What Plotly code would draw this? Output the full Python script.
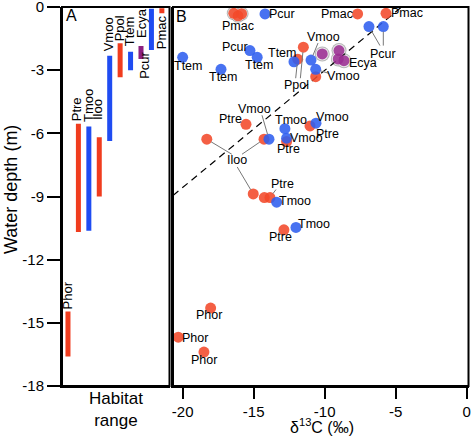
import math
import plotly.graph_objects as go

# ---------------- Panel A: habitat depth ranges ----------------
hab_species = ["Phor", "Ptre", "Tmoo", "Iloo", "Vmoo", "Ppol", "Ttem", "Ecya", "Pcur", "Pmac"]
hab_top = [-14.46, -5.55, -5.68, -6.19, -2.31, -1.72, -2.12, -1.85, -0.08, -0.06]
hab_bottom = [-16.6, -10.69, -10.63, -9.0, -6.36, -3.34, -3.0, -2.47, -2.04, -0.3]
hab_group = ["red", "red", "blue", "red", "blue", "red", "blue", "purple", "blue", "red"]

# ---------------- Panel B: d13C vs depth ----------------
red_species = ["Pmac", "Pmac", "Pmac", "Pmac", "Pmac", "Ppol", "Ppol", "Ppol",
               "Ptre", "Ptre", "Ptre", "Ptre", "Ptre", "Ptre",
               "Iloo", "Iloo", "Iloo", "Phor", "Phor", "Phor"]
red_x = [-16.4, -16.1, -15.85, -7.68, -5.68, -11.5, -11.9, -10.63,
         -15.54, -11.03, -12.68, -14.25, -13.85, -12.87,
         -18.3, -14.27, -15.03, -18.03, -20.31, -18.5]
red_depth = [-0.3, -0.42, -0.32, -0.33, -0.3, -1.91, -2.48, -3.31,
             -5.57, -5.65, -6.39, -9.05, -9.05, -10.58,
             -6.28, -6.28, -8.88, -14.3, -15.68, -16.39]

blue_species = ["Pcur", "Pcur", "Pcur", "Pcur", "Ttem", "Ttem", "Ttem", "Ttem",
                "Vmoo", "Vmoo", "Vmoo", "Vmoo", "Vmoo", "Tmoo", "Tmoo", "Tmoo"]
blue_x = [-14.2, -15.26, -6.88, -5.87, -20.0, -14.75, -17.3, -12.16,
          -10.96, -10.63, -13.92, -12.68, -10.61, -12.8, -13.38, -12.02]
blue_depth = [-0.33, -2.07, -0.93, -0.93, -2.39, -2.39, -2.96, -2.6,
              -2.52, -2.96, -6.28, -6.23, -5.52, -5.78, -9.27, -10.47]

purple_species = ["Ecya", "Ecya", "Ecya", "Ecya"]
purple_x = [-10.17, -8.99, -9.04, -8.64]
purple_depth = [-2.23, -2.07, -2.47, -2.55]

trend_x = [-20.68, -4.58]
trend_depth = [-8.95, 0.0]

depth_ticks = [0, -3, -6, -9, -12, -15, -18]
depth_ticklabels = ["0", "-3", "-6", "-9", "-12", "-15", "-18"]
d13c_ticks = [-20, -15, -10, -5, 0]
d13c_ticklabels = ["-20", "-15", "-10", "-5", "0"]

# ---------------- styles ----------------
FONT = "Liberation Sans, Arial, sans-serif"
BAR_COL = {"red": "#F03C1E", "blue": "#1F4CF2", "purple": "#8C1F80"}
RED, BLUE, PURPLE = "#F2492A", "#2F5FEF", "#9B2D92"
W, H = 472, 436


def px(v):
    return v / W


def py(v):
    return 1 - v / H


fig = go.Figure()

# Panel A floating bars
fig.add_trace(go.Bar(
    x=list(range(len(hab_species))),
    y=[t - b for t, b in zip(hab_top, hab_bottom)],
    base=hab_bottom,
    marker=dict(color=[BAR_COL[g] for g in hab_group], line=dict(width=0)),
    width=0.48, xaxis="x", yaxis="y", hoverinfo="skip",
))

# Panel B hull underlays (outline of union of circles)
for size, col in ((15, "#999999"), (13, "white")):
    fig.add_trace(go.Scatter(
        x=red_x[:3] + purple_x, y=red_depth[:3] + purple_depth,
        mode="markers", marker=dict(size=[size - 1] * 3 + [size] * 4, color=col, line=dict(width=0)),
        xaxis="x2", yaxis="y2", hoverinfo="skip"))

# trend line
fig.add_trace(go.Scatter(
    x=trend_x, y=trend_depth, mode="lines",
    line=dict(color="black", width=1.2, dash="7px,5px"),
    xaxis="x2", yaxis="y2", hoverinfo="skip"))

for xs, ys, col in ((red_x, red_depth, RED), (blue_x, blue_depth, BLUE), (purple_x, purple_depth, PURPLE)):
    fig.add_trace(go.Scatter(
        x=xs, y=ys, mode="markers",
        marker=dict(size=11, color=col, opacity=0.88, line=dict(width=0)),
        xaxis="x2", yaxis="y2", hoverinfo="skip"))

annotations = []
shapes = []

# Panel A labels (rotated)
a_gap = [0, 1, 3, 15, 2, 0, 3, 6, None, None]
a_dx = [-1, -2, -1, -1, -1, -1, -1, 1, -7, -1]
for i, sp in enumerate(hab_species):
    if a_gap[i] is None:
        annotations.append(dict(x=i, y=hab_bottom[i], xref="x", yref="y", text=sp,
                                textangle=-90, showarrow=False, yanchor="top", xanchor="center",
                                xshift=a_dx[i], font=dict(size=13, family=FONT, color="black")))
    else:
        annotations.append(dict(x=i, y=hab_top[i], xref="x", yref="y", text=sp,
                                textangle=-90, showarrow=False, yanchor="bottom", xanchor="center",
                                xshift=a_dx[i], yshift=a_gap[i],
                                font=dict(size=13, family=FONT, color="black")))

groups = {"r": (red_x, red_depth, red_species),
          "b": (blue_x, blue_depth, blue_species),
          "p": (purple_x, purple_depth, purple_species)}

label_refs = [("r", 1, 0, -10), ("b", 0, 17, 0), ("r", 3, -21, 0), ("r", 4, 21, 0),
              ("b", 1, -15, 4), ("b", 4, 5, -9), ("b", 5, 2, -8), ("b", 6, 2, -8),
              ("b", 7, -12, 9), ("b", 8, 12, 23), ("p", 3, 19, -2), ("b", 9, 28, -7),
              ("r", 6, -1, -26), ("b", 3, 0, -27), ("b", 10, -14, 30), ("r", 8, -15, 5),
              ("b", 13, 6, 9), ("b", 12, 17, 6), ("r", 9, 17, -8), ("b", 11, 20, 0),
              ("r", 10, 2, -7), ("r", 16, -16, 34), ("r", 12, 13, 14), ("b", 14, 18, 1),
              ("b", 15, 18, 3), ("r", 13, -3, -7), ("r", 17, -2, -7), ("r", 18, 17, -1),
              ("r", 19, 0, -8)]
for g, i, dx, dy in label_refs:
    xs, ys, names = groups[g]
    annotations.append(dict(x=xs[i], y=ys[i], xref="x2", yref="y2", text=names[i],
                            showarrow=False, xshift=dx, yshift=dy,
                            xanchor="center", yanchor="middle",
                            font=dict(size=12.5, family=FONT, color="black")))

# leader lines: pixel offsets (right, up) of the tail end from the point
leaders = [("r", 5, -3, -31), ("r", 6, -2, -19), ("b", 8, 7, 17), ("b", 2, 11, -19),
           ("b", 3, 0, -19), ("b", 10, -7, 24), ("r", 14, 25, -15), ("r", 15, -22, -15),
           ("r", 16, -16, 27), ("r", 12, 6, 8), ("b", 9, 13, -4)]
for g, i, tx, ty in leaders:
    xs, ys, _ = groups[g]
    L = math.hypot(tx, ty)
    hx, hy = tx / L * 5, ty / L * 5
    shapes.append(dict(type="line", xref="x2", yref="y2",
                       xsizemode="pixel", ysizemode="pixel",
                       xanchor=xs[i], yanchor=ys[i],
                       x0=hx, y0=hy, x1=tx, y1=ty,
                       line=dict(color="#777777", width=1)))

# panel frames
for xr, yr in (("x domain", "y domain"), ("x2 domain", "y2 domain")):
    shapes.append(dict(type="rect", xref=xr, yref=yr, x0=0, x1=1, y0=0, y1=1,
                       line=dict(color="black", width=2), fillcolor="rgba(0,0,0,0)", layer="above"))

# panel letters and titles
ctr = dict(xref="paper", yref="paper", showarrow=False, xanchor="center", yanchor="middle")
annotations += [
    dict(x=px(71.5), y=py(15.5), text="A", font=dict(size=16, family=FONT, color="black"), **ctr),
    dict(x=px(181.5), y=py(16), text="B", font=dict(size=16, family=FONT, color="black"), **ctr),
    dict(x=px(11), y=py(190), text="Water depth (m)", textangle=-90,
         font=dict(size=18, family=FONT, color="black"), **ctr),
    dict(x=px(116), y=py(409), text="Habitat<br>range",
         font=dict(size=17, family=FONT, color="black"), **ctr),
    dict(x=px(322), y=py(426), text="δ<sup>13</sup>C (‰)",
         font=dict(size=16, family=FONT, color="black"), **ctr),
]

ydom = [py(386), py(7)]
frame = dict(showline=True, linecolor="black", linewidth=2, mirror=False,
             showgrid=False, zeroline=False, automargin=False)

fig.update_layout(
    template="none",
    width=W, height=H, margin=dict(l=0, r=0, t=0, b=0, pad=0, autoexpand=False),
    paper_bgcolor="white", plot_bgcolor="white", showlegend=False,
    font=dict(family=FONT, color="black"),
    xaxis=dict(domain=[px(62), px(169.5)], range=[-0.573, 9.733], showticklabels=False,
               ticks="", anchor="y", **frame),
    yaxis=dict(domain=ydom, range=[-18, 0], anchor="x", ticks="outside", ticklen=13,
               tickwidth=2, tickcolor="black", tickvals=depth_ticks, ticktext=depth_ticklabels,
               ticklabeloverflow="allow",
               tickfont=dict(size=15, family=FONT, color="black"), **frame),
    xaxis2=dict(domain=[px(173), px(468.5)], range=[-20.68, 0.13], anchor="y2",
                ticks="outside", ticklen=11, tickwidth=2, tickcolor="black",
                tickvals=d13c_ticks, ticktext=d13c_ticklabels, ticklabeloverflow="allow",
                tickfont=dict(size=15, family=FONT, color="black"), **frame),
    yaxis2=dict(domain=ydom, range=[-18, 0], anchor="x2", showticklabels=False, ticks="", **frame),
    annotations=annotations,
    shapes=shapes,
)

fig.write_html("out.html", config={"displayModeBar": False},
               post_script="document.body.style.margin='0';document.body.style.overflow='hidden';")
